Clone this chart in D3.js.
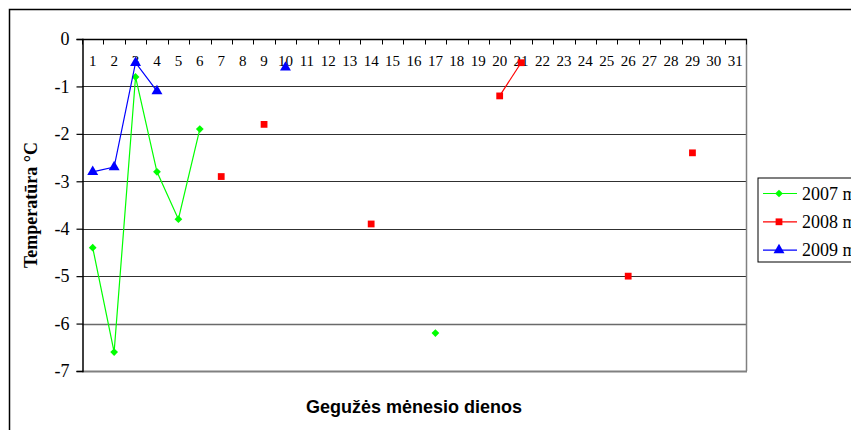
<!DOCTYPE html>
<html>
<head>
<meta charset="utf-8">
<script src="https://cdn.jsdelivr.net/npm/d3@7"></script>
<style>
  html, body { margin: 0; padding: 0; background: #fff; overflow: hidden; }
  svg { display: block; }
</style>
</head>
<body>
<svg id="chart" width="851" height="430"></svg>
<script>
// Days of May (category axis)
const days = d3.range(1, 32).map(String);

// Temperatures per day, null where no measurement
const t2007 = [-4.4, -6.6, -0.8, -2.8, -3.8, -1.9, null, null, null, null,
               null, null, null, null, null, null, -6.2, null, null, null,
               null, null, null, null, null, null, null, null, null, null, null];
const t2008 = [null, null, null, null, null, null, -2.9, null, -1.8, null,
               null, null, null, -3.9, null, null, null, null, null, -1.2,
               -0.5, null, null, null, null, -5.0, null, null, -2.4, null, null];
const t2009 = [-2.8, -2.7, -0.5, -1.1, null, null, null, null, null, -0.6,
               null, null, null, null, null, null, null, null, null, null,
               null, null, null, null, null, null, null, null, null, null, null];

const yTicks = [0, -1, -2, -3, -4, -5, -6, -7];
const seriesNames = ["2007 m.", "2008 m.", "2009 m."];
const seriesColors = ["#00ff00", "#ff0000", "#0000ff"];
const seriesShapes = ["diamond", "square", "triangle"];

const series = [t2007, t2008, t2009].map((vals, i) => ({
  name: seriesNames[i],
  color: seriesColors[i],
  shape: seriesShapes[i],
  points: vals.map((v, j) => ({ day: days[j], value: v }))
}));

// Marker paths: diamond is a square turned by 45 degrees
function marker(shape) {
  if (shape === "diamond") return { d: d3.symbol().type(d3.symbolSquare).size(30)(), rot: 45 };
  if (shape === "square") return { d: d3.symbol().type(d3.symbolSquare).size(46)(), rot: 0 };
  return { d: d3.symbol().type(d3.symbolTriangle).size(52)(), rot: 0 };
}

const serif = "'Liberation Serif', 'Times New Roman', serif";
const svg = d3.select("#chart");
const plot = { left: 82, top: 39, right: 746, bottom: 371 };

// Outer chart frame
svg.append("rect")
  .attr("x", 9.5).attr("y", 9.5)
  .attr("width", 1000).attr("height", 1000)
  .attr("fill", "none").attr("stroke", "#000").attr("stroke-width", 1.5);

const x = d3.scaleBand().domain(days).range([plot.left, plot.right]);
const y = d3.scaleLinear().domain([-7, 0]).range([plot.bottom, plot.top]);

// Horizontal gridlines
svg.append("g").selectAll("line")
  .data(yTicks.filter(v => v !== 0 && v !== -7))
  .join("line")
  .attr("x1", plot.left).attr("x2", plot.right)
  .attr("y1", d => Math.round(y(d)) + 0.5).attr("y2", d => Math.round(y(d)) + 0.5)
  .attr("stroke", d => d <= -6 ? "#6a6a6a" : "#303030")
  .attr("stroke-width", d => d <= -6 ? 1.5 : 1);

// Plot area right and bottom borders
svg.append("line")
  .attr("x1", plot.right + 0.5).attr("x2", plot.right + 0.5)
  .attr("y1", plot.top).attr("y2", plot.bottom)
  .attr("stroke", "#808080").attr("stroke-width", 1.5);
svg.append("line")
  .attr("x1", plot.left).attr("x2", plot.right + 1)
  .attr("y1", plot.bottom + 0.5).attr("y2", plot.bottom + 0.5)
  .attr("stroke", "#808080").attr("stroke-width", 2);

// Category axis along the zero line, ticks at band boundaries pointing down
const xAxisG = svg.append("g").attr("transform", `translate(0,${plot.top + 0.5})`);
xAxisG.append("line")
  .attr("x1", plot.left).attr("x2", plot.right + 1)
  .attr("stroke", "#000").attr("stroke-width", 1.5);
const bounds = days.map(d => x(d)).concat([plot.right]);
xAxisG.selectAll("line.tick")
  .data(bounds)
  .join("line").attr("class", "tick")
  .attr("x1", d => Math.round(d) + 0.5).attr("x2", d => Math.round(d) + 0.5)
  .attr("y1", 0).attr("y2", 5)
  .attr("stroke", "#000").attr("stroke-width", 1);
xAxisG.selectAll("text")
  .data(days)
  .join("text")
  .attr("x", d => x(d) + x.bandwidth() / 2)
  .attr("y", 26.5)
  .attr("text-anchor", "middle")
  .attr("font-family", serif)
  .attr("font-size", 15)
  .attr("fill", "#000")
  .text(d => d);

// Value axis on the left
const yAxis = d3.axisLeft(y).tickValues(yTicks).tickSize(6).tickFormat(d3.format("d"));
const yAxisG = svg.append("g")
  .attr("transform", `translate(${plot.left + 0.5},0)`)
  .call(yAxis);
yAxisG.select(".domain").attr("stroke", "#000").attr("stroke-width", 1.5);
yAxisG.selectAll(".tick line").attr("stroke", "#000").attr("stroke-width", 1.2);
yAxisG.selectAll(".tick text")
  .attr("x", -13)
  .attr("font-family", serif)
  .attr("font-size", 18)
  .attr("fill", "#000")
  .text(d => d === 0 ? "0" : "-" + Math.abs(d));

// Series lines (broken where days are missing) and markers
const line = d3.line()
  .defined(d => d.value !== null)
  .x(d => x(d.day) + x.bandwidth() / 2)
  .y(d => y(d.value));

series.forEach(s => {
  svg.append("path")
    .datum(s.points)
    .attr("d", line)
    .attr("fill", "none")
    .attr("stroke", s.color)
    .attr("stroke-width", 1.2);
  const m = marker(s.shape);
  svg.append("g").selectAll("path")
    .data(s.points.filter(d => d.value !== null))
    .join("path")
    .attr("transform", d => `translate(${x(d.day) + x.bandwidth() / 2},${y(d.value)}) rotate(${m.rot})`)
    .attr("d", m.d)
    .attr("fill", s.color);
});

// Axis titles
svg.append("text")
  .attr("transform", `translate(37,${(plot.top + plot.bottom) / 2}) rotate(-90)`)
  .attr("text-anchor", "middle")
  .attr("font-family", serif)
  .attr("font-weight", "bold")
  .attr("font-size", 18)
  .attr("fill", "#000")
  .text("Temperatūra °C");

svg.append("text")
  .attr("x", (plot.left + plot.right) / 2)
  .attr("y", 413)
  .attr("text-anchor", "middle")
  .attr("font-family", "'Liberation Sans', Arial, sans-serif")
  .attr("font-weight", "bold")
  .attr("font-size", 18)
  .attr("fill", "#000")
  .text("Gegužės mėnesio dienos");

// Legend
const legend = svg.append("g");
legend.append("rect")
  .attr("x", 758).attr("y", 178)
  .attr("width", 200).attr("height", 84)
  .attr("fill", "#fff").attr("stroke", "#000").attr("stroke-width", 1);
const legendRows = legend.selectAll("g.row")
  .data(series)
  .join("g").attr("class", "row")
  .attr("transform", (d, i) => `translate(0,${193.5 + i * 28.3})`);
legendRows.append("line")
  .attr("x1", 763).attr("x2", 797)
  .attr("stroke", d => d.color).attr("stroke-width", 1.2);
legendRows.append("path")
  .attr("transform", d => `translate(779,0) rotate(${marker(d.shape).rot})`)
  .attr("d", d => marker(d.shape).d)
  .attr("fill", d => d.color);
legendRows.append("text")
  .attr("x", 802).attr("y", 6)
  .attr("font-family", serif)
  .attr("font-size", 18)
  .attr("fill", "#000")
  .text(d => d.name);
</script>
</body>
</html>
